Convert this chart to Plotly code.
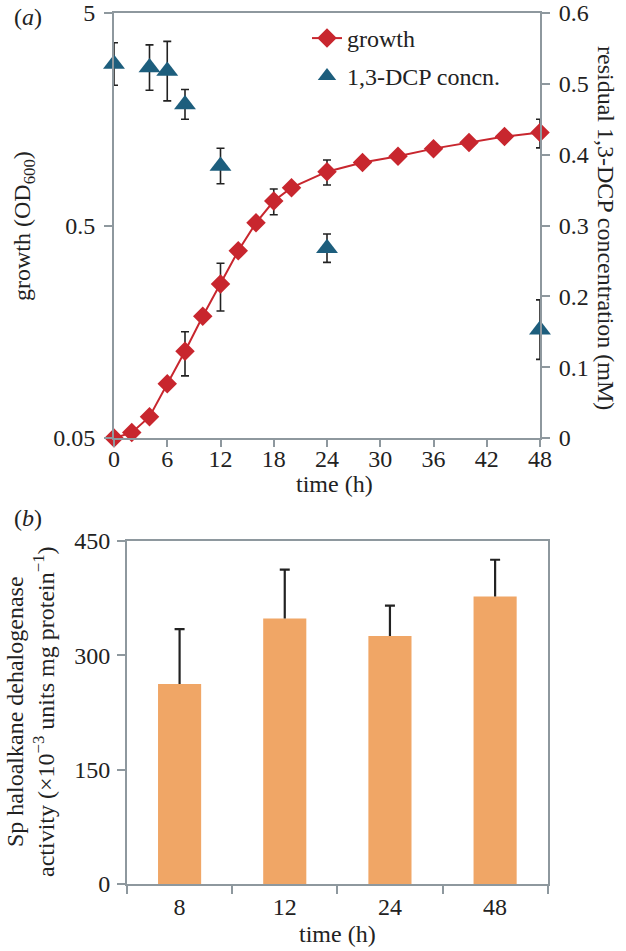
import plotly.graph_objects as go

W, H = 626, 951

# ---- data: panel (a) ----
growth_t = [0, 2, 4, 6, 8, 10, 12, 14, 16, 18, 20, 24, 28, 32, 36, 40, 44, 48]
growth_od = [0.050, 0.053, 0.063, 0.090, 0.128, 0.187, 0.265, 0.38, 0.515, 0.652,
             0.753, 0.896, 0.99, 1.06, 1.15, 1.23, 1.31, 1.37]
growth_err = [0, 0, 0, 0, 0.030, 0, 0.067, 0, 0, 0.09, 0, 0.12, 0, 0, 0, 0, 0, 0.21]

dcp_t = [0, 4, 6, 8, 12, 24, 48]
dcp_conc = [0.528, 0.523, 0.518, 0.471, 0.384, 0.268, 0.153]
dcp_err = [0.030, 0.032, 0.042, 0.021, 0.025, 0.020, 0.042]

x_ticks_a = [0, 6, 12, 18, 24, 30, 36, 42, 48]
y_ticks_a = [0.05, 0.5, 5]
y2_ticks_a = [0, 0.1, 0.2, 0.3, 0.4, 0.5, 0.6]
y2_labels_a = ["0", "0.1", "0.2", "0.3", "0.4", "0.5", "0.6"]

# ---- data: panel (b) ----
bar_cats = ["8", "12", "24", "48"]
bar_vals = [262, 348, 325, 377]
bar_err = [72, 64, 40, 48]
y_ticks_b = [0, 150, 300, 450]

RED = "#c8262e"
TEAL = "#1d5e7d"
ORANGE = "#f0a666"
GREY = "#8e989e"
FONT = "Liberation Serif"
FS = 24

def px(x):
    return x / W

def py(y):
    return 1 - y / H

fig = go.Figure()

fig.add_trace(go.Scatter(
    x=growth_t, y=growth_od, mode="lines+markers", name="growth",
    line=dict(color=RED, width=2),
    marker=dict(symbol="diamond", size=15, color=RED),
    error_y=dict(type="data", array=growth_err, color="#222222", thickness=1.6, width=4),
    cliponaxis=False, xaxis="x", yaxis="y", legend="legend",
))
fig.add_trace(go.Scatter(
    x=dcp_t, y=dcp_conc, mode="markers", name="1,3-DCP concn.",
    marker=dict(symbol="triangle-up", size=19, color=TEAL),
    error_y=dict(type="data", array=dcp_err, color="#222222", thickness=1.6, width=4),
    cliponaxis=False, xaxis="x", yaxis="y2", legend="legend2",
))
fig.add_trace(go.Bar(
    x=bar_cats, y=bar_vals, marker=dict(color=ORANGE, line=dict(width=0)),
    error_y=dict(type="data", array=bar_err, arrayminus=[0] * len(bar_err),
                 color="#222222", thickness=2.2, width=0),
    xaxis="x3", yaxis="y3", showlegend=False,
))
# caps on top of the upward error bars
fig.add_trace(go.Scatter(
    x=bar_cats, y=[v + e for v, e in zip(bar_vals, bar_err)], mode="markers",
    marker=dict(size=1, opacity=0),
    error_y=dict(type="data", array=[0] * len(bar_err), color="#222222", thickness=2.2, width=5),
    xaxis="x3", yaxis="y3", showlegend=False, hoverinfo="skip",
))

axis_common = dict(showline=True, linecolor=GREY, linewidth=2, ticks="outside",
                   tickcolor=GREY, tickwidth=2, showgrid=False, zeroline=False,
                   automargin=False,
                   tickfont=dict(family=FONT, size=FS, color="#222222"))

fig.update_layout(
    width=W, height=H, margin=dict(l=0, r=0, t=0, b=0),
    paper_bgcolor="white", plot_bgcolor="white",
    font=dict(family=FONT, size=FS, color="#222222"),
    bargap=0.59,
    xaxis=dict(domain=[px(114), px(540)], range=[0, 48], tickvals=x_ticks_a,
               ticklen=7, mirror=True, anchor="y", ticklabelstandoff=-9, **axis_common),
    yaxis=dict(domain=[py(438), py(13)], type="log",
               range=[-1.30103, 0.69897], tickvals=y_ticks_a,
               ticktext=["0.05", "0.5", "5"], ticklen=8, anchor="x",
               ticklabelstandoff=4, **axis_common),
    yaxis2=dict(overlaying="y", side="right", range=[0, 0.6], tickvals=y2_ticks_a,
                ticktext=y2_labels_a, ticklen=8, anchor="x", ticklabelstandoff=4,
                **axis_common),
    xaxis3=dict(domain=[px(127), px(547.7)], type="category", tickson="boundaries",
                ticklen=8, mirror=True, anchor="y3", **axis_common),
    yaxis3=dict(domain=[py(884), py(540.7)], range=[0, 450], tickvals=y_ticks_b,
                ticklen=8, mirror=True, anchor="x3", ticklabelstandoff=2, **axis_common),
    legend=dict(x=px(307), y=py(16), xanchor="left", yanchor="top",
                bgcolor="rgba(0,0,0,0)", font=dict(family=FONT, size=FS)),
    legend2=dict(x=px(307), y=py(54), xanchor="left", yanchor="top",
                 bgcolor="rgba(0,0,0,0)", font=dict(family=FONT, size=FS)),
)

ann = dict(showarrow=False, xref="paper", yref="paper",
           font=dict(family=FONT, size=FS, color="#222222"))
fig.add_annotation(text="(<i>a</i>)", x=px(28), y=py(17), xanchor="center", yanchor="middle", **ann)
fig.add_annotation(text="(<i>b</i>)", x=px(28), y=py(518), xanchor="center", yanchor="middle", **ann)
fig.add_annotation(text="time (h)", x=px(334), y=py(484), xanchor="center", yanchor="middle", **ann)
fig.add_annotation(text="time (h)", x=px(337), y=py(934), xanchor="center", yanchor="middle", **ann)
fig.add_annotation(text="growth (OD<sub>600</sub>)", x=px(24), y=py(226), textangle=-90,
                   xanchor="center", yanchor="middle", **ann)
fig.add_annotation(text="residual 1,3-DCP concentration (mM)", x=px(606), y=py(228), textangle=90,
                   xanchor="center", yanchor="middle", **ann)
fig.add_annotation(text="Sp haloalkane dehalogenase<br>activity (×10<sup>−3</sup> units mg protein<sup>−1</sup>)",
                   x=px(30), y=py(712), textangle=-90, xanchor="center", yanchor="middle", **ann)

# remove the browser's default 8px body margin so the figure fills the window
fig.write_html("out.html", config={"displayModeBar": False},
               post_script="document.body.style.margin='0';document.body.style.overflow='hidden';")
